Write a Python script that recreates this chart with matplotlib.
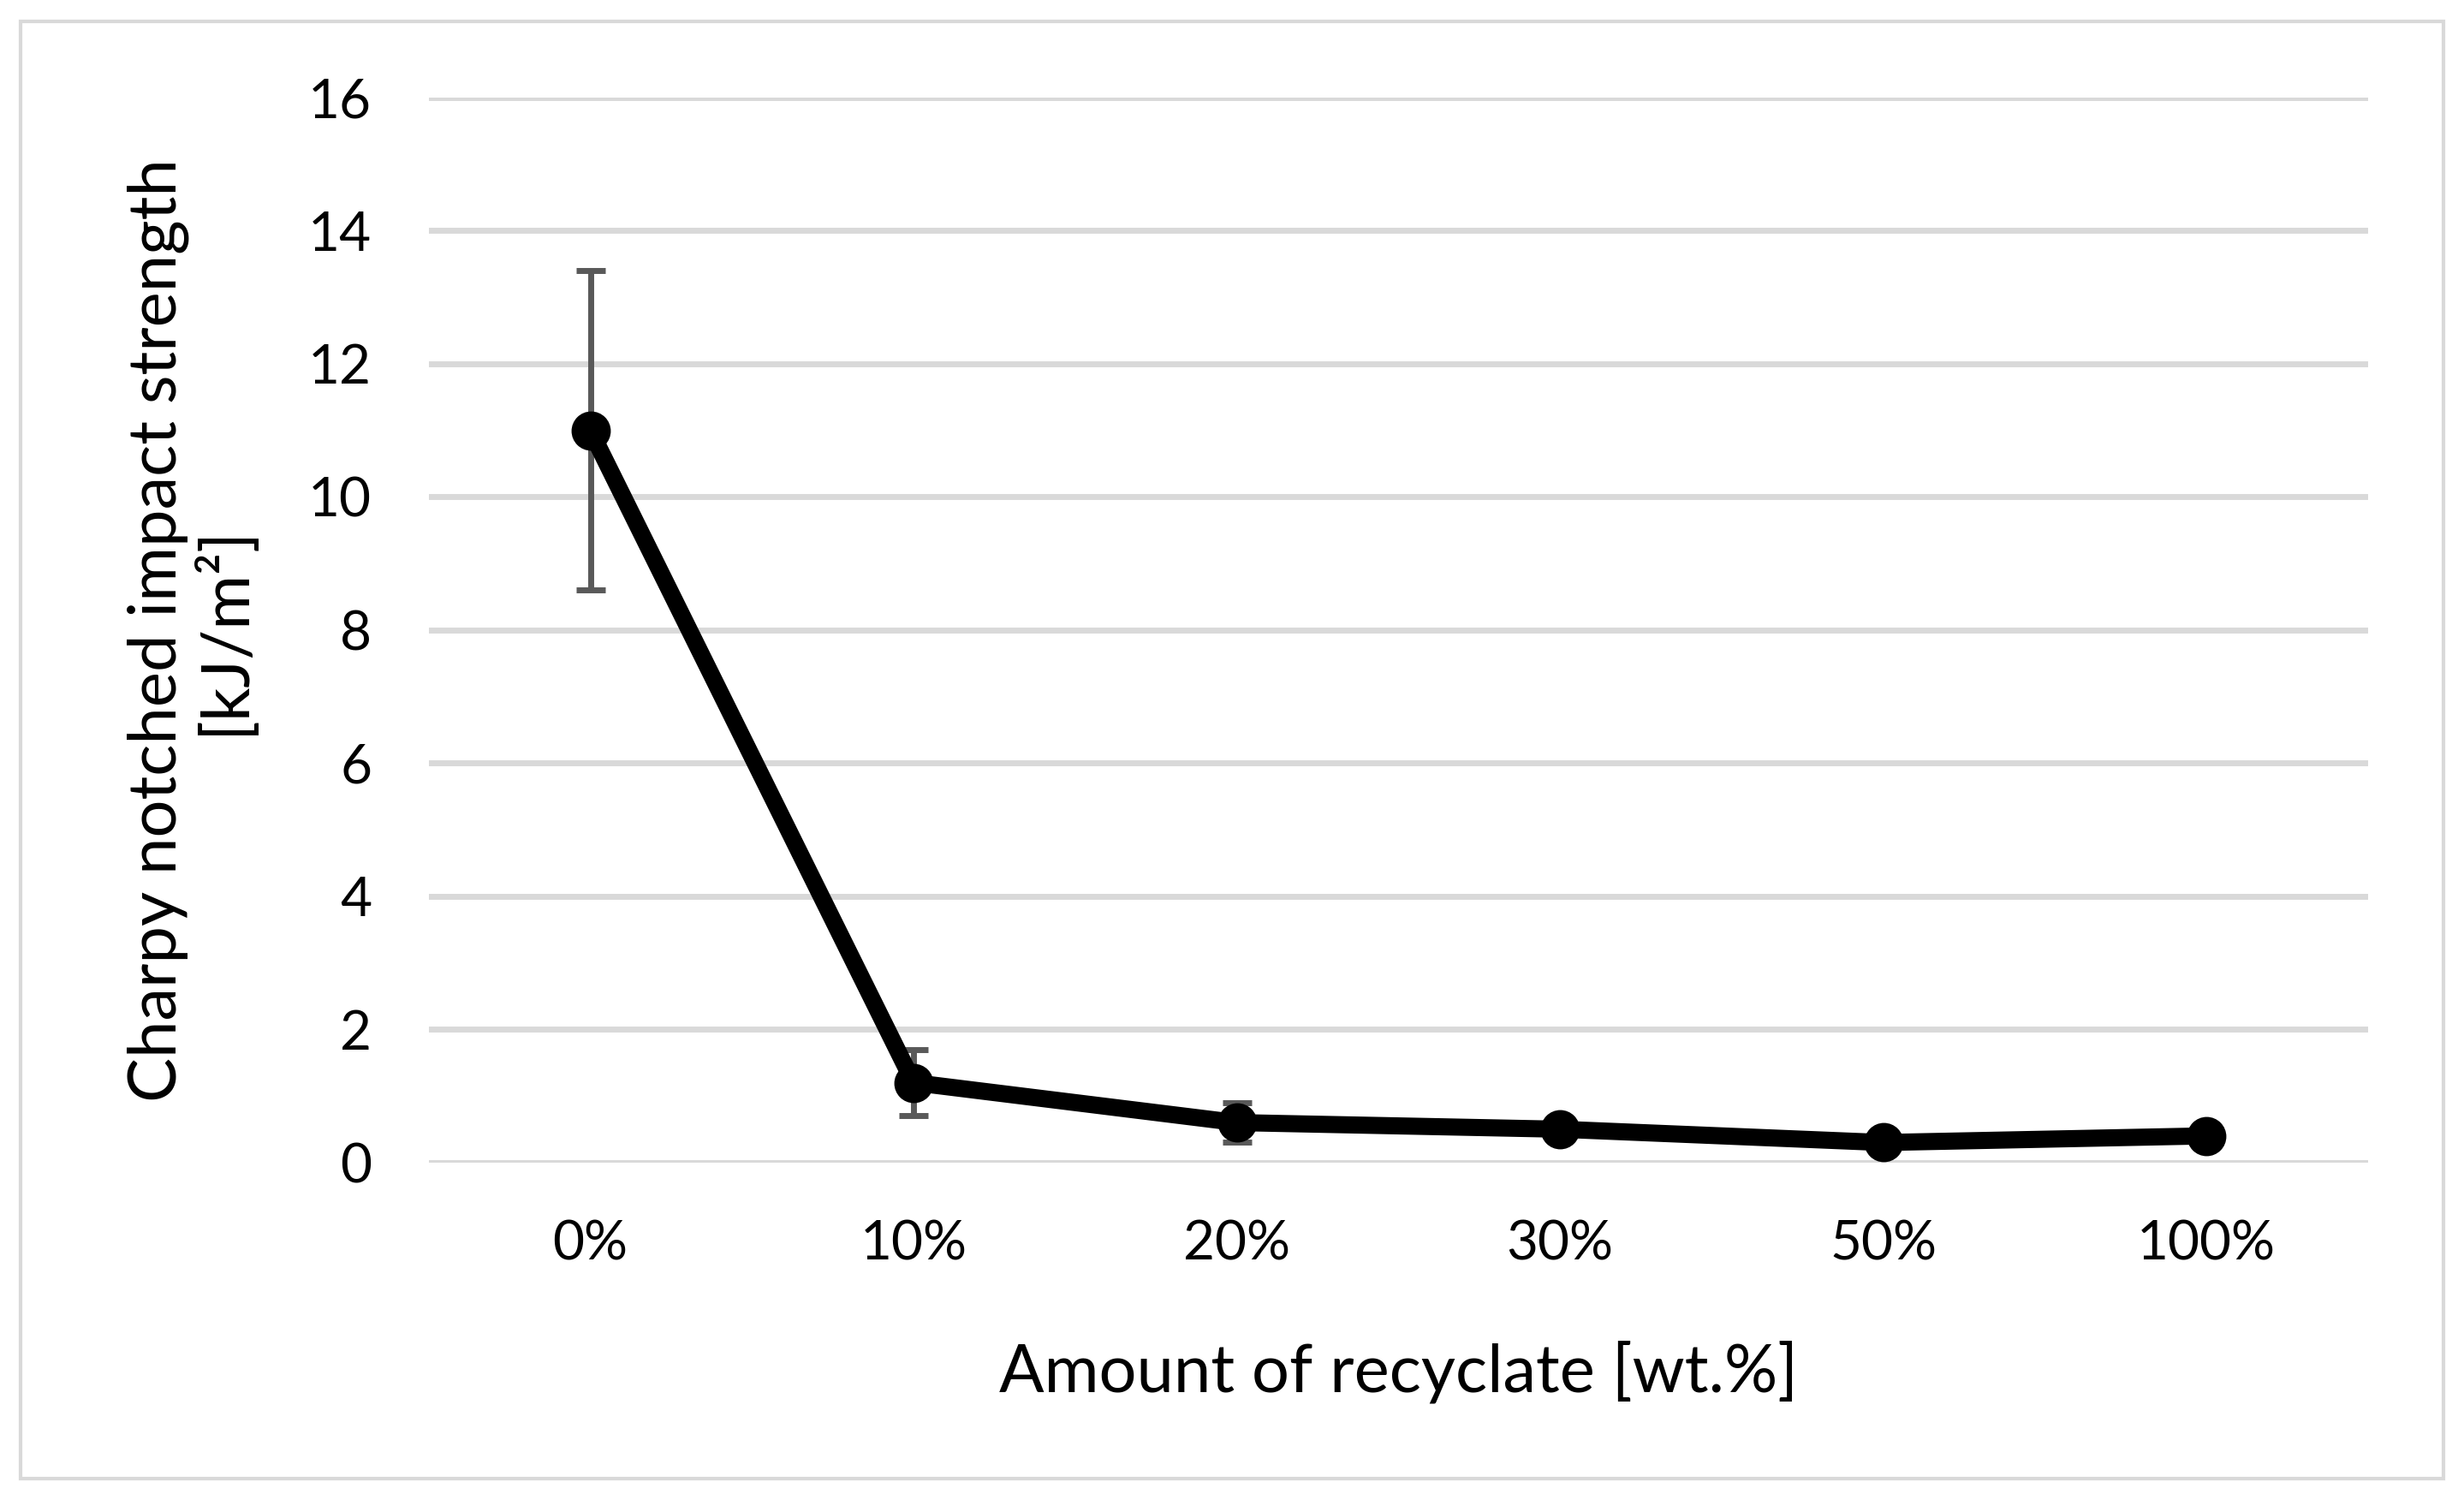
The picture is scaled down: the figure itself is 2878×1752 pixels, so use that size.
import numpy as np
import matplotlib.pyplot as plt
from matplotlib.patches import Rectangle

# data
categories = ["0%", "10%", "20%", "30%", "50%", "100%"]
impact = [11.0, 1.2, 0.6, 0.5, 0.3, 0.4]
impact_err = [2.4, 0.5, 0.3, 0.0, 0.0, 0.0]
y_ticks = [0, 2, 4, 6, 8, 10, 12, 14, 16]

plt.rcParams['font.family'] = ['Lato', 'DejaVu Sans']

fig = plt.figure(figsize=(14.39, 8.76), dpi=200)
ax = fig.add_axes([0.174, 0.225, 0.787, 0.710])

x = np.arange(len(categories))
ax.errorbar(x, impact, yerr=impact_err, fmt='none', ecolor='#595959',
            elinewidth=2.5, capsize=6, capthick=2.5, zorder=2)
ax.plot(x, impact, color='black', lw=7.2, marker='o', markersize=15.5,
        zorder=3, solid_capstyle='round')

ax.set_xlim(-0.5, len(categories) - 0.5)
ax.set_ylim(0, 16)
ax.set_yticks(y_ticks)
ax.set_xticks(x)
ax.set_xticklabels(categories)
ax.tick_params(axis='both', length=0, labelsize=23, colors='black')
ax.tick_params(axis='y', pad=24)
ax.tick_params(axis='x', pad=24)
ax.grid(axis='y', color='#d9d9d9', lw=2.5)
ax.set_axisbelow(True)
for s in ax.spines.values():
    s.set_visible(False)

ax.set_xlabel("Amount of recyclate [wt.%]", fontsize=28, labelpad=30)
ax.set_ylabel("Charpy notched impact strength\n[kJ/m²]", fontsize=28,
              labelpad=22, linespacing=1.05)

# light frame round the chart area
fig.patches.append(Rectangle((0.0085, 0.014), 0.983, 0.972, transform=fig.transFigure,
                             fill=False, edgecolor='#d9d9d9', lw=1.5))

fig.savefig("out.png", dpi=200)
